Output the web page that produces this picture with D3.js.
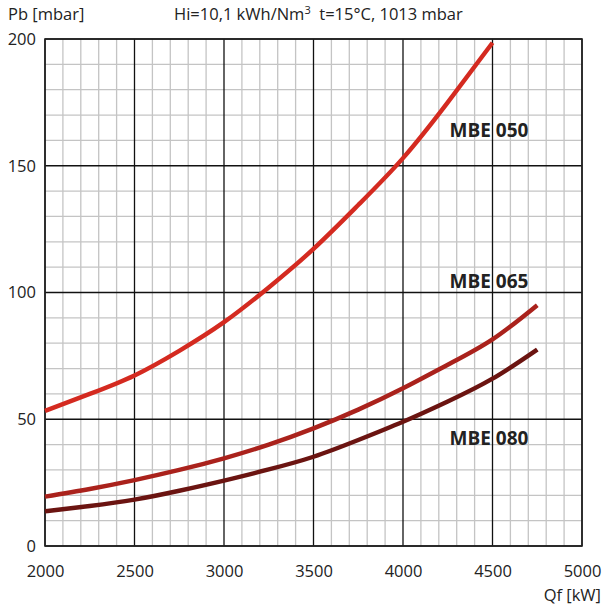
<!DOCTYPE html>
<html><head><meta charset="utf-8">
<script src="https://cdn.jsdelivr.net/npm/d3@7"></script>
<style>
body{margin:0;background:#fff;}
svg text{font-family:"Open Sans",Lato,sans-serif;fill:#222;}
</style></head>
<body><svg id="c" width="605" height="607"></svg>
<script>
const xTicks=[2000,2500,3000,3500,4000,4500,5000];
const yTicks=[0,50,100,150,200];
const qf=[2000,2250,2500,2750,3000,3250,3500,3750,4000,4250,4500,4750];
const mbe050=[53.3,60,67.3,77,88.3,102,117.2,134.5,153,175,198.5,null];
const mbe065=[19.5,22.5,26,30,34.6,40,46.4,53.8,62.2,71.5,81.5,95];
const mbe080=[13.7,15.8,18.3,21.8,25.8,30.2,35.2,41.8,49,57,66,77.5];
const seriesNames=["MBE 050","MBE 065","MBE 080"];
const seriesColors=["#d42a20","#aa221c","#6b1411"];
const labelPos=[[4260,161.2],[4260,101.7],[4260,39.8]];

const svg=d3.select("#c");
const m={l:45,r:582,t:39,b:546};
const x=d3.scaleLinear().domain([2000,5000]).range([m.l,m.r]);
const y=d3.scaleLinear().domain([0,200]).range([m.b,m.t]);

const g=svg.append("g");
g.selectAll(".mx").data(d3.range(2100,5000,100).filter(v=>v%500)).enter().append("line")
 .attr("x1",d=>x(d)).attr("x2",d=>x(d)).attr("y1",m.t).attr("y2",m.b)
 .attr("stroke","#c4c4c4").attr("stroke-width",1.3);
g.selectAll(".my").data(d3.range(10,200,10).filter(v=>v%50)).enter().append("line")
 .attr("y1",d=>y(d)).attr("y2",d=>y(d)).attr("x1",m.l).attr("x2",m.r)
 .attr("stroke","#c4c4c4").attr("stroke-width",1.3);
g.selectAll(".Mx").data(xTicks).enter().append("line")
 .attr("x1",d=>x(d)).attr("x2",d=>x(d)).attr("y1",m.t).attr("y2",m.b)
 .attr("stroke","#111").attr("stroke-width",1.3);
g.selectAll(".My").data(yTicks).enter().append("line")
 .attr("y1",d=>y(d)).attr("y2",d=>y(d)).attr("x1",m.l).attr("x2",m.r)
 .attr("stroke","#111").attr("stroke-width",1.3);
g.append("rect").attr("x",m.l).attr("y",m.t).attr("width",m.r-m.l).attr("height",m.b-m.t)
 .attr("fill","none").attr("stroke","#222").attr("stroke-width",1.6);

const xa=svg.append("g").attr("transform",`translate(0,${m.b})`)
 .call(d3.axisBottom(x).tickValues(xTicks).tickSize(0).tickPadding(19).tickFormat(d3.format("d")));
const ya=svg.append("g").attr("transform",`translate(${m.l},0)`)
 .call(d3.axisLeft(y).tickValues(yTicks).tickSize(0).tickPadding(9));
[xa,ya].forEach(a=>{a.select(".domain").remove();a.selectAll("text").attr("font-size",16.5).attr("fill","#222")
 .style("font-family","'Open Sans', Lato, sans-serif");});

const line=d3.line().x(d=>x(d[0])).y(d=>y(d[1])).curve(d3.curveNatural);
[mbe050,mbe065,mbe080].forEach((s,i)=>{
  svg.append("path").datum(qf.map((q,j)=>[q,s[j]]).filter(d=>d[1]!=null)).attr("d",line)
   .attr("fill","none").attr("stroke",seriesColors[i]).attr("stroke-width",4.4);
  svg.append("text").attr("x",x(labelPos[i][0])).attr("y",y(labelPos[i][1]))
   .attr("font-size",19).attr("font-weight","bold").attr("fill","#111").text(seriesNames[i]);
});

svg.append("text").attr("x",8).attr("y",20).attr("font-size",16.5).text("Pb [mbar]");
const t=svg.append("text").attr("x",174).attr("y",20).attr("font-size",16.5);
t.append("tspan").text("Hi=10,1 kWh/Nm");
t.append("tspan").attr("font-size",11).attr("dy",-6).text("3");
t.append("tspan").attr("dy",6).text("\u00a0 t=15°C, 1013 mbar");
svg.append("text").attr("x",601).attr("y",601).attr("text-anchor","end").attr("font-size",16.5).text("Qf [kW]");
</script></body></html>
